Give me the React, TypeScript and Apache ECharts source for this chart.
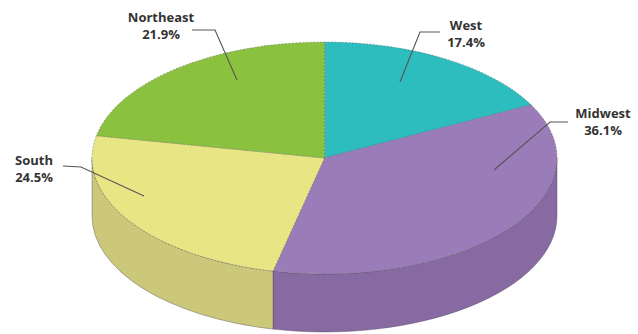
import React, { useEffect, useRef } from "react";
import * as echarts from "echarts";

const regions = ["West", "Midwest", "South", "Northeast"];
const shares = [17.4, 36.1, 24.5, 21.9];
const topColors = ["#2DBDBE", "#9A7DB8", "#E8E584", "#8AC23F"];
const sideColors = ["#249A9B", "#876AA2", "#CBC87A", "#73A332"];

// layout for labels (text centre and leader polyline)
const labelLayout = [
  { x: 466, y: 33, line: [[440, 32], [420, 32], [400, 82]] },
  { x: 603, y: 121, line: [[568, 122], [550, 122], [494, 170]] },
  { x: 34, y: 168, line: [[63, 166], [81, 167], [144, 196]] },
  { x: 161, y: 25, line: [[192, 30], [215, 30], [237, 80]] },
];

const CX = 324.5;
const CY = 158;
const RX = 232.5;
const RY = 116;
const DEPTH = 58;

function pt(t: number, dy = 0) {
  return [CX + RX * Math.sin(t), CY - RY * Math.cos(t) + dy];
}

export default function App() {
  const ref = useRef<HTMLDivElement>(null);
  useEffect(() => {
    if (!ref.current) return;
    const chart = echarts.init(ref.current, null, { renderer: "svg" });
    const total = shares.reduce((a, b) => a + b, 0);
    const starts: number[] = [];
    let acc = 0;
    shares.forEach((v) => {
      starts.push(acc);
      acc += v;
    });

    const renderItem = (params: any) => {
      const i = params.dataIndex;
      const t0 = (starts[i] / total) * Math.PI * 2;
      const t1 = ((starts[i] + shares[i]) / total) * Math.PI * 2;
      const children: any[] = [];
      const s0 = Math.max(t0, Math.PI / 2);
      const s1 = Math.min(t1, (Math.PI * 3) / 2);
      if (s1 > s0) {
        const a = pt(s0);
        const b = pt(s1);
        const c = pt(s1, DEPTH);
        const d = pt(s0, DEPTH);
        const large = s1 - s0 > Math.PI ? 1 : 0;
        const pathData =
          `M${a[0]} ${a[1]} A${RX} ${RY} 0 ${large} 1 ${b[0]} ${b[1]} ` +
          `L${c[0]} ${c[1]} A${RX} ${RY} 0 ${large} 0 ${d[0]} ${d[1]} Z`;
        children.push({
          type: "path",
          shape: { pathData },
          style: {
            fill: sideColors[i],
            stroke: "rgba(70,60,80,0.55)",
            lineWidth: 0.7,
          },
        });
      }
      const p0 = pt(t0);
      const p1 = pt(t1);
      const largeTop = t1 - t0 > Math.PI ? 1 : 0;
      const topPath =
        `M${CX} ${CY} L${p0[0]} ${p0[1]} A${RX} ${RY} 0 ${largeTop} 1 ${p1[0]} ${p1[1]} Z`;
      children.push({
        type: "path",
        shape: { pathData: topPath },
        style: {
          fill: topColors[i],
          stroke: "rgba(70,70,70,0.55)",
          lineWidth: 0.7,
          lineDash: [2, 1.5],
        },
        z2: 10,
      });
      return { type: "group", children };
    };

    const graphics: any[] = [];
    const font = "bold 13px 'Open Sans', sans-serif";
    regions.forEach((name, i) => {
      const L = labelLayout[i];
      graphics.push({
        type: "polyline",
        shape: { points: L.line },
        style: { stroke: "#555", lineWidth: 1.1, fill: null },
        z: 100,
      });
      graphics.push({
        type: "text",
        x: L.x,
        y: L.y - 8.5,
        style: {
          text: name,
          font,
          fill: "#333",
          align: "center",
          verticalAlign: "middle",
        },
        z: 100,
      });
      graphics.push({
        type: "text",
        x: L.x,
        y: L.y + 8.5,
        style: {
          text: `${shares[i].toFixed(1)}%`,
          font,
          fill: "#333",
          align: "center",
          verticalAlign: "middle",
        },
        z: 100,
      });
    });

    chart.setOption({
      animation: false,
      backgroundColor: "#ffffff",
      series: [
        {
          type: "custom",
          coordinateSystem: "none",
          renderItem,
          data: shares.map((v, i) => ({ name: regions[i], value: v })),
          silent: true,
        },
      ],
      graphic: graphics,
    });
    return () => chart.dispose();
  }, []);
  return (
    <div
      ref={ref}
      style={{ position: "absolute", left: 0, top: 0, width: 638, height: 334 }}
    />
  );
}
